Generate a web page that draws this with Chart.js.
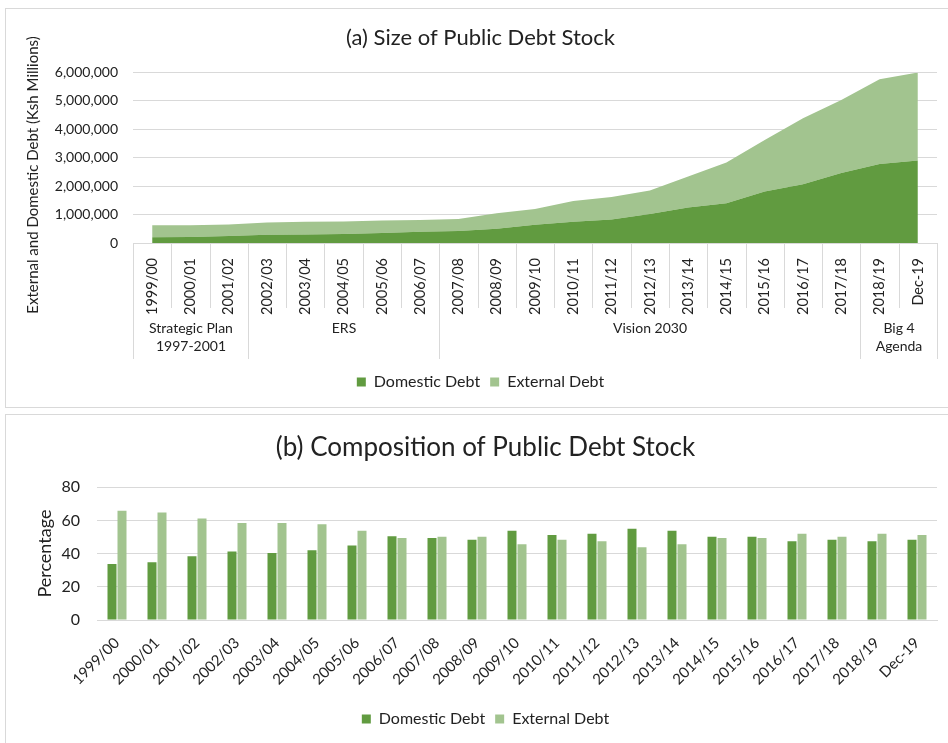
<!DOCTYPE html>
<html>
<head>
<meta charset="utf-8">
<script src="https://cdn.jsdelivr.net/npm/chart.js@4.4.1/dist/chart.umd.min.js"></script>
<style>
body { margin: 0; background: #fff; }
.box { position: absolute; left: 5px; width: 950px; border: 1px solid #d9d9d9; background: #fff; }
#box-size { top: 8px; height: 398px; }
#box-comp { top: 414px; height: 340px; }
canvas { position: absolute; left: 0; top: 0; }
</style>
</head>
<body>
<div class="box" id="box-size"><canvas id="area-chart-size" width="943" height="398"></canvas></div>
<div class="box" id="box-comp"><canvas id="bar-chart-comp" width="943" height="328"></canvas></div>
<script>
// 연도 (categories)
var years = ['1999/00','2000/01','2001/02','2002/03','2003/04','2004/05','2005/06','2006/07','2007/08','2008/09',
	'2009/10','2010/11','2011/12','2012/13','2013/14','2014/15','2015/16','2016/17','2017/18','2018/19','Dec-19'];

// policy periods under the year labels
var groupNames = [['Strategic Plan','1997-2001'], ['ERS'], ['Vision 2030'], ['Big 4','Agenda']];
var groupSizes = [3, 5, 11, 2];

// (a) debt stock, Ksh millions
var domesticDebt = [205000,210000,250000,290000,300000,320000,355000,395000,420000,505000,
	640000,750000,830000,1020000,1250000,1400000,1810000,2070000,2460000,2780000,2900000];
var externalDebt = [415000,410000,400000,430000,450000,440000,435000,415000,420000,545000,
	560000,730000,790000,830000,1090000,1430000,1810000,2320000,2570000,2980000,3100000];
var sizeTicks = [0,1000000,2000000,3000000,4000000,5000000,6000000];

// (b) composition, percent
var domesticPct = [33.7,34.8,38.4,41.2,40.4,42.0,44.9,50.4,49.4,48.4,53.8,51.2,52.0,54.9,53.8,50.2,50.2,47.5,48.4,47.5,48.4];
var externalPct = [65.8,64.8,61.2,58.5,58.5,57.7,53.8,49.4,50.2,50.2,45.7,48.4,47.5,43.9,45.7,49.4,49.4,52.0,50.2,52.0,51.2];
var pctTicks = [0,20,40,60,80];

var darkGreen = '#619b40';
var lightGreen = '#a2c48f';
var gridGray = '#d9d9d9';
var textColor = '#222';
var fontName = 'Lato';

/* 다단 x축 라벨 + 세로 축 제목 */
var groupLabels = {
	id: 'groupLabels',
	afterDraw: function(chart) {
		if (chart.canvas.id != 'area-chart-size') return;
		var ctx = chart.ctx, x = chart.scales.x, bottom = chart.chartArea.bottom;
		var step = x.getPixelForValue(1) - x.getPixelForValue(0);
		var edge = function(i) { return Math.round(x.getPixelForValue(0) - step / 2 + step * i) + 0.5; };

		ctx.save();
		ctx.strokeStyle = gridGray;
		ctx.lineWidth = 1;
		ctx.beginPath();
		for (var i = 0; i <= years.length; i++) {
			ctx.moveTo(edge(i), bottom);
			ctx.lineTo(edge(i), bottom + 65);
		}
		var k = 0;
		ctx.moveTo(edge(0), bottom);
		ctx.lineTo(edge(0), bottom + 116);
		for (var g = 0; g < groupSizes.length; g++) {
			k += groupSizes[g];
			ctx.moveTo(edge(k), bottom);
			ctx.lineTo(edge(k), bottom + 116);
		}
		ctx.stroke();

		ctx.fillStyle = textColor;
		ctx.font = '14px ' + fontName;
		ctx.textAlign = 'center';
		ctx.textBaseline = 'middle';
		k = 0;
		for (var g = 0; g < groupSizes.length; g++) {
			var mid = (edge(k) + edge(k + groupSizes[g])) / 2;
			for (var l = 0; l < groupNames[g].length; l++)
				ctx.fillText(groupNames[g][l], mid, bottom + 85 + l * 18);
			k += groupSizes[g];
		}

		// y축 제목 (Excel처럼 전체 높이 기준 가운데)
		ctx.translate(27, 166);
		ctx.rotate(-Math.PI / 2);
		ctx.font = '15px ' + fontName;
		ctx.fillText('External and Domestic Debt (Ksh Millions)', 0, 0);
		ctx.restore();
	}
};

new Chart(document.getElementById('area-chart-size'), {
	type: 'line',
	plugins: [groupLabels],
	data: {
		labels: years,
		datasets: [{
			label: 'Domestic Debt',
			data: domesticDebt,
			backgroundColor: darkGreen,
			borderColor: darkGreen,
			borderWidth: 0,
			pointRadius: 0,
			tension: 0,
			fill: 'origin'
		}, {
			label: 'External Debt',
			data: externalDebt,
			backgroundColor: lightGreen,
			borderColor: lightGreen,
			borderWidth: 0,
			pointRadius: 0,
			tension: 0,
			fill: '-1'
		}]
	},
	options: {
		responsive: false,
		animation: false,
		layout: { padding: { left: 18, right: 12, bottom: 7 } },
		plugins: {
			title: {
				display: true,
				text: '(a) Size of Public Debt Stock',
				color: textColor,
				font: { family: fontName, size: 22, weight: 'normal' },
				padding: { top: 16, bottom: 21 }
			},
			legend: {
				position: 'bottom',
				labels: { color: textColor, boxWidth: 9, boxHeight: 9, padding: 10, font: { family: fontName, size: 16 } }
			},
			tooltip: { enabled: false }
		},
		scales: {
			x: {
				offset: true,
				grid: { display: false },
				border: { color: gridGray },
				ticks: { color: textColor, minRotation: 90, maxRotation: 90, padding: 7, font: { family: fontName, size: 14.5 } },
				afterFit: function(scale) { scale.height = 121; scale.paddingLeft = 0; scale.paddingRight = 0; }
			},
			y: {
				stacked: true,
				min: 0,
				max: 6000000,
				afterBuildTicks: function(scale) { scale.ticks = sizeTicks.map(function(v) { return { value: v }; }); },
				afterFit: function(scale) { scale.width = 109; },
				grid: { color: gridGray, drawTicks: false },
				border: { display: false },
				ticks: {
					color: textColor, padding: 15, font: { family: fontName, size: 14 },
					callback: function(v) { return v.toLocaleString('en-US'); }
				}
			}
		}
	}
});

new Chart(document.getElementById('bar-chart-comp'), {
	type: 'bar',
	data: {
		labels: years,
		datasets: [{
			label: 'Domestic Debt',
			data: domesticPct,
			backgroundColor: darkGreen,
			borderWidth: 0
		}, {
			label: 'External Debt',
			data: externalPct,
			backgroundColor: lightGreen,
			borderWidth: 0
		}]
	},
	options: {
		responsive: false,
		animation: false,
		layout: { padding: { left: 28, right: 12, bottom: 6 } },
		datasets: { bar: { categoryPercentage: 0.5, barPercentage: 0.9 } },
		plugins: {
			title: {
				display: true,
				text: '(b) Composition of Public Debt Stock',
				color: textColor,
				font: { family: fontName, size: 26, weight: 'normal' },
				padding: { top: 17, bottom: 24 }
			},
			legend: {
				position: 'bottom',
				labels: { color: textColor, boxWidth: 9, boxHeight: 9, padding: 10, font: { family: fontName, size: 16 } }
			},
			tooltip: { enabled: false }
		},
		scales: {
			x: {
				grid: { display: false },
				border: { color: gridGray },
				ticks: { color: textColor, minRotation: 45, maxRotation: 45, padding: 6, font: { family: fontName, size: 15 } },
				afterFit: function(scale) { scale.height = 81; scale.paddingLeft = 0; scale.paddingRight = 0; }
			},
			y: {
				min: 0,
				max: 80,
				afterBuildTicks: function(scale) { scale.ticks = pctTicks.map(function(v) { return { value: v }; }); },
				afterFit: function(scale) { scale.width = 63; },
				grid: { color: gridGray, drawTicks: false },
				border: { display: false },
				ticks: { color: textColor, padding: 17, font: { family: fontName, size: 16 } },
				title: {
					display: true,
					text: 'Percentage',
					color: textColor,
					font: { family: fontName, size: 18 },
					padding: { top: 0, bottom: 6 }
				}
			}
		}
	}
});
</script>
</body>
</html>
